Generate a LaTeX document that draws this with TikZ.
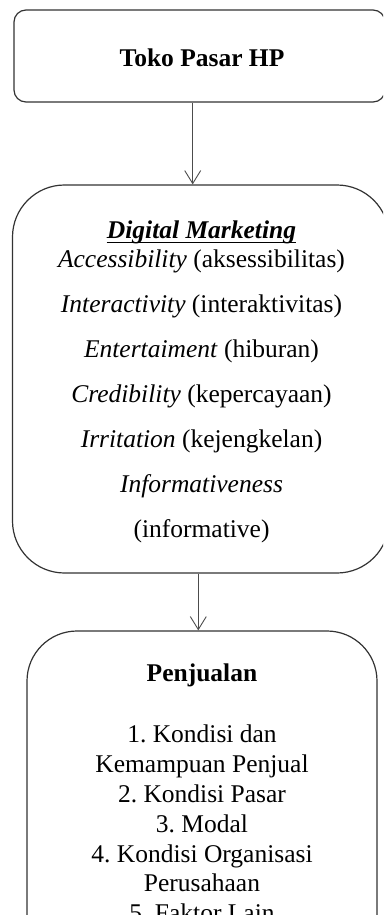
\documentclass[tikz,border=0pt]{standalone}
\usepackage{fontspec}
\setmainfont{Liberation Serif}
\usetikzlibrary{arrows.meta}
\frenchspacing
\begin{document}
\begin{tikzpicture}[x=1pt,y=-1pt,
  box/.style={draw=black!80, line width=1.2pt, inner sep=0pt},
  conn/.style={draw=black!70, line width=0.9pt, -{Straight Barb[length=13pt,width=16pt]}},
  txt/.style={anchor=base, inner sep=0pt, font=\fontsize{25.5}{30}\selectfont}]
\useasboundingbox (0,0) rectangle (383,915);
\clip (0,0) rectangle (383,915);
% boxes
\node[box, rounded corners=12pt, minimum width=371pt, minimum height=92pt] (toko) at (199.5,56) {};
\node[box, rounded corners=52pt, minimum width=376.5pt, minimum height=388pt] (dm) at (200.75,379) {};
\node[box, rounded corners=50pt, minimum width=350pt, minimum height=400pt] (pj) at (202,831) {};
% connector axes
\coordinate (ax1) at (192.7,0);
\coordinate (ax2) at (198.3,0);
\draw[conn] (toko.south -| ax1) -- (dm.north -| ax1);
\draw[conn] (dm.south -| ax2) -- (pj.north -| ax2);
% texts
\node[txt] (t0) at (202,67) {\textbf{Toko Pasar HP}};
\node[txt] (d0) at (201.5,238) {\textbf{\textit{Digital Marketing}}};
\draw[line width=1pt] ([yshift=-4pt]d0.base west) -- ([yshift=-4pt]d0.base east);
\node[txt] (d1) at (201.5,267) {\textit{Accessibility} (aksessibilitas)};
\node[txt] (d2) at (201.5,312) {\textit{Interactivity} (interaktivitas)};
\node[txt] (d3) at (201.5,357) {\textit{Entertaiment} (hiburan)};
\node[txt] (d4) at (201.5,402) {\textit{Credibility} (kepercayaan)};
\node[txt] (d5) at (201.5,447) {\textit{Irritation} (kejengkelan)};
\node[txt] (d6) at (201.5,492) {\textit{Informativeness}};
\node[txt] (d7) at (201.5,537) {(informative)};
\node[txt] (p0) at (202,681) {\textbf{Penjualan}};
\node[txt] (p1) at (202,742) {1. Kondisi dan};
\node[txt] (p2) at (202,772) {Kemampuan Penjual};
\node[txt] (p3) at (202,802) {2. Kondisi Pasar};
\node[txt] (p4) at (202,832) {3. Modal};
\node[txt] (p5) at (202,862) {4. Kondisi Organisasi};
\node[txt] (p6) at (202,891) {Perusahaan};
\node[txt] (p7) at (202,921) {5. Faktor Lain};
\end{tikzpicture}
\end{document}
